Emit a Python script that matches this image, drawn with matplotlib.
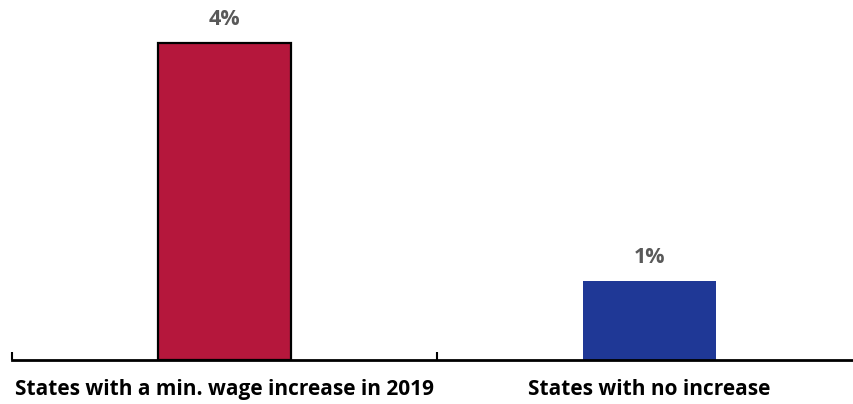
import matplotlib
matplotlib.use("Agg")
import matplotlib.pyplot as plt
from matplotlib.ticker import FixedLocator

categories = ["States with a min. wage increase in 2019", "States with no increase"]
values = [4, 1]
labels = ["4%", "1%"]
colors = ["#B5173C", "#1F3896"]
edges = ["black", "none"]

fig = plt.figure(figsize=(8.54, 4.04), dpi=100)
W, H = 854, 404
ax = fig.add_axes([12 / W, 44 / H, 850 / W, 360 / H])

x = range(len(categories))
bars = ax.bar(x, values, width=0.315, color=colors, edgecolor=edges, linewidth=1.6, zorder=2)

for b, lab in zip(bars, labels):
    ax.annotate(lab, (b.get_x() + b.get_width() / 2, b.get_height()),
                xytext=(0, 9), textcoords="offset points", ha="center", va="bottom",
                fontsize=15.5, fontweight="bold", color="#595959", family="Open Sans")

ax.set_xlim(-0.5, 1.5)
ax.set_ylim(0, 4.54)
ax.set_xticks(list(x))
ax.set_xticklabels(categories, fontsize=15, fontweight="bold", family="Open Sans")
ax.tick_params(axis="x", which="major", length=0, pad=14)
ax.xaxis.set_minor_locator(FixedLocator([-0.5, 0.5, 1.5]))
ax.tick_params(axis="x", which="minor", direction="in", length=6, width=1.5, color="black")
ax.set_yticks([])
for s in ["top", "right", "left"]:
    ax.spines[s].set_visible(False)
ax.spines["bottom"].set_linewidth(2)

fig.savefig("out.png", dpi=100)
